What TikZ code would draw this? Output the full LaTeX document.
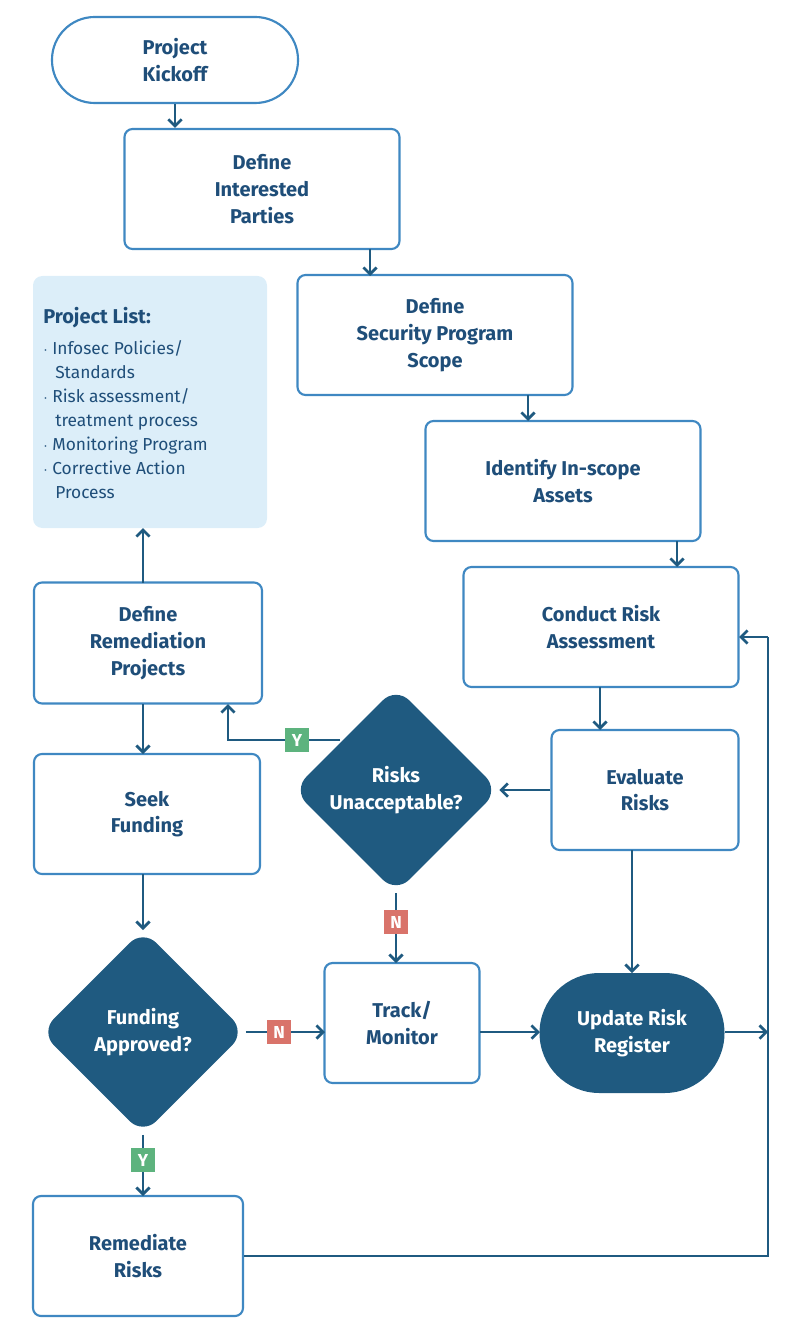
\documentclass[tikz,border=0pt]{standalone}
\usepackage{fontspec}
\setmainfont{Fira Sans}
\usetikzlibrary{arrows.meta,shapes.geometric,positioning}
\definecolor{bord}{HTML}{3F88C2}
\definecolor{dark}{HTML}{1F5A80}
\definecolor{txt}{HTML}{1F4E79}
\definecolor{lblue}{HTML}{DCEEF9}
\definecolor{yg}{HTML}{5DB37E}
\definecolor{nr}{HTML}{D9736A}
\tikzset{
 box/.style={draw=bord,line width=1.6pt,rounded corners=6pt,fill=white,align=center,text=txt,font=\fontsize{15}{20}\selectfont\bfseries},
 dia/.style={diamond,fill=dark,rounded corners=14pt,text=white,align=center,font=\fontsize{15}{20}\selectfont\bfseries,inner sep=0pt},
 arr/.style={draw=dark,line width=2pt,-{Straight Barb[length=5pt,width=10pt]}},
 ln/.style={draw=dark,line width=2pt},
 lab/.style={text=white,font=\fontsize{13}{13}\selectfont\bfseries,minimum width=18pt,minimum height=18pt,inner sep=0pt}
}
\begin{document}
\begin{tikzpicture}[x=0.75pt,y=-0.75pt]
\useasboundingbox (0,0) rectangle (798,1344);
\node[box,rounded corners=32pt,minimum width=246*0.75pt,minimum height=86*0.75pt] (kick) at (175,60) {Project\\Kickoff};
\node[box,minimum width=275*0.75pt,minimum height=120*0.75pt] (ip) at (262,189) {Define\\Interested\\Parties};
\node[box,minimum width=275*0.75pt,minimum height=120*0.75pt] (sc) at (435,335) {Define\\Security Program\\Scope};
\node[box,minimum width=275*0.75pt,minimum height=120*0.75pt] (as) at (563,481) {Identify In-scope\\Assets};
\node[box,minimum width=275*0.75pt,minimum height=120*0.75pt] (cr) at (601,627) {Conduct Risk\\Assessment};
\node[box,minimum width=187*0.75pt,minimum height=120*0.75pt] (ev) at (645,790) {Evaluate\\Risks};
\node[dia,minimum width=206*0.75pt,minimum height=206*0.75pt] (ru) at (396,790) {Risks\\Unacceptable?};
\node[box,minimum width=228*0.75pt,minimum height=121*0.75pt] (dr) at (148,643) {Define\\Remediation\\Projects};
\node[fill=lblue,rounded corners=7pt,minimum width=234*0.75pt,minimum height=252*0.75pt,inner sep=0pt] (pl) at (150,402) {};
\node[anchor=north west,text=txt,align=left,inner sep=0pt,font=\fontsize{13}{18}\selectfont] at (43,307) {{\fontsize{15}{18}\selectfont\bfseries Project List:}\\[5pt]
$\cdot$ Infosec Policies/\\\hspace*{9pt}Standards\\$\cdot$ Risk assessment/\\\hspace*{9pt}treatment process\\$\cdot$ Monitoring Program\\$\cdot$ Corrective Action\\\hspace*{9pt}Process};
\node[box,minimum width=226*0.75pt,minimum height=120*0.75pt] (sf) at (147,814) {Seek\\Funding};
\node[dia,minimum width=205*0.75pt,minimum height=205*0.75pt] (fa) at (143,1032) {Funding\\Approved?};
\node[box,minimum width=155*0.75pt,minimum height=120*0.75pt] (tm) at (402,1023) {Track/\\Monitor};
\node[fill=dark,rounded corners=45pt,minimum width=185*0.75pt,minimum height=120*0.75pt,text=white,align=center,font=\fontsize{15}{20}\selectfont\bfseries] (ur) at (632,1033) {Update Risk\\Register};
\node[box,minimum width=210*0.75pt,minimum height=120*0.75pt] (rr) at (138,1256) {Remediate\\Risks};
\coordinate (c1) at (768,1032);
\coordinate (c2) at (768,1256);
\coordinate (c3) at (768,637);
\draw[arr] (kick.south) -- (kick.south|-ip.north);
\draw[arr] (370,249) -- (370,276);
\draw[arr] (528,395) -- (528,421);
\draw[arr] (677,541) -- (677,567);
\draw[arr] (600,687) -- (600,730);
\draw[arr] (ev.west) -- (ru.east);
\draw[arr] (340,740) -- (228,740) -- (228,704);
\node[lab,fill=yg] at (297,740) {Y};
\draw[arr] (ru.south) -- (396,963);
\node[lab,fill=nr] at (396,922) {N};
\draw[arr] (632,850) -- (632,973);
\draw[arr] (143,583) -- (143,528);
\draw[arr] (143,704) -- (143,754);
\draw[arr] (143,874) -- (143,930);
\draw[arr] (fa.east) -- (325,1032);
\node[lab,fill=nr] at (279,1032) {N};
\draw[arr] (fa.south) -- (143,1196);
\node[lab,fill=yg] at (143,1160) {Y};
\draw[arr] (480,1032) -- (540,1032);
\draw[arr] (ur.east|-c1) -- (c1);
\draw[ln] (rr.east|-c2) -- (c2) -- (c3);
\draw[arr] (c3) -- (739,637);
\end{tikzpicture}
\end{document}
